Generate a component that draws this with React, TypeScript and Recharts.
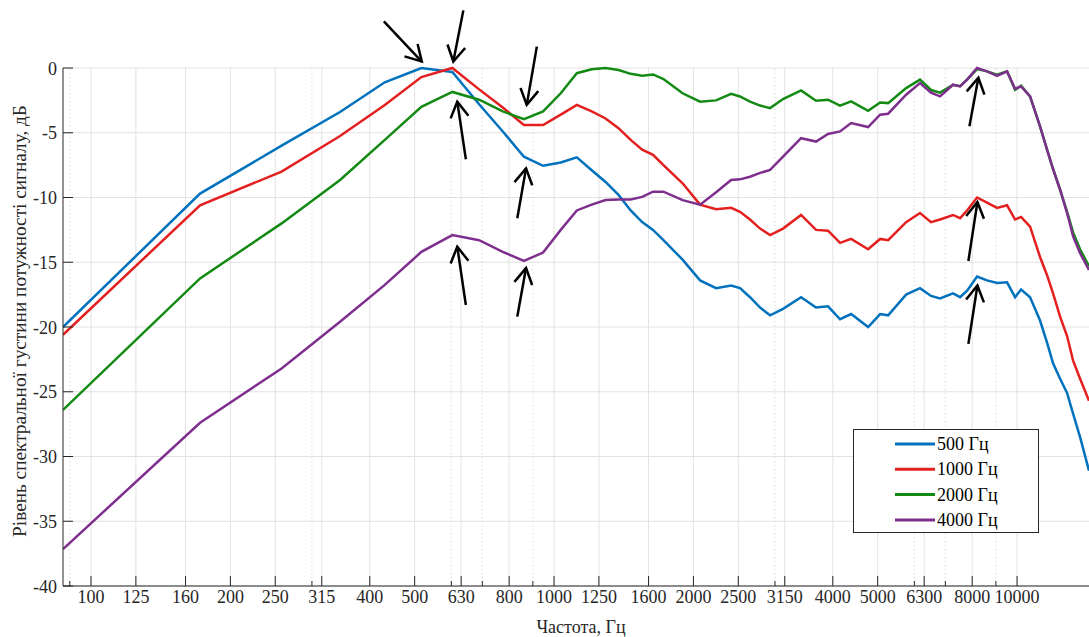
import { LineChart, Line, XAxis, YAxis, CartesianGrid, ReferenceLine } from 'recharts';

// FFT bin frequencies (Hz) at which the four spectra are sampled
const freqs = [
  87, 172, 258, 345, 431, 517, 603, 689, 775, 861, 947, 1034, 1120, 1206, 1292, 1378, 1464, 1550, 1636, 1723,
  1895, 2067, 2239, 2412, 2521, 2650, 2786, 2928, 3123, 3416, 3680, 3906, 4147, 4381, 4768, 5061, 5267, 5759,
  6172, 6519, 6818, 7273, 7532, 7799, 8196, 8613, 9052, 9514, 9901, 10200, 10668, 11210, 11607, 11960, 12385,
  12823, 13213, 13680, 14300,
];

const level500 = [
  -20.0, -9.7, -6.0, -3.4, -1.1, 0, -0.3, -2.8, -4.9, -6.85, -7.55, -7.3, -6.9, -7.9, -8.8, -9.8, -11.0, -11.9, -12.5, -13.3,
  -14.8, -16.4, -17.0, -16.8, -17.0, -17.7, -18.5, -19.1, -18.6, -17.7, -18.5, -18.4, -19.4, -19.0, -20.0, -19.0, -19.1, -17.5,
  -17.0, -17.6, -17.8, -17.4, -17.7, -17.2, -16.1, -16.4, -16.6, -16.55, -17.7, -17.1, -17.7, -19.5, -21.2, -22.8, -24.0,
  -25.1, -26.7, -28.5, -31.1,
];

const level1000 = [
  -20.6, -10.6, -8.0, -5.25, -2.85, -0.7, 0, -1.65, -3.05, -4.4, -4.4, -3.6, -2.85, -3.35, -3.9, -4.65, -5.55, -6.3, -6.7, -7.5,
  -8.9, -10.55, -10.9, -10.8, -11.1, -11.7, -12.4, -12.9, -12.4, -11.35, -12.5, -12.56, -13.5, -13.2, -14.0, -13.2, -13.3, -11.9,
  -11.2, -11.9, -11.7, -11.35, -11.6, -11.0, -10.0, -10.4, -10.8, -10.6, -11.7, -11.5, -12.25, -14.6, -16.0, -17.4, -19.2,
  -20.7, -22.6, -24.0, -25.7,
];

const level2000 = [
  -26.4, -16.25, -12.0, -8.65, -5.55, -3.0, -1.85, -2.45, -3.35, -3.95, -3.35, -1.95, -0.4, -0.1, 0, -0.15, -0.45, -0.6, -0.5, -0.85,
  -1.95, -2.6, -2.5, -2.0, -2.2, -2.6, -2.9, -3.1, -2.4, -1.73, -2.53, -2.45, -2.9, -2.58, -3.3, -2.66, -2.71, -1.55,
  -0.9, -1.7, -1.9, -1.3, -1.4, -0.9, -0.08, -0.26, -0.52, -0.26, -1.68, -1.37, -2.19, -4.5, -6.3, -7.8, -9.4,
  -11.1, -12.7, -14.0, -15.3,
];

const level4000 = [
  -37.15, -27.4, -23.2, -19.6, -16.75, -14.2, -12.9, -13.3, -14.2, -14.9, -14.25, -12.5, -11.0, -10.55, -10.2, -10.15, -10.15, -9.95, -9.55, -9.55,
  -10.2, -10.55, -9.6, -8.65, -8.6, -8.4, -8.1, -7.87, -6.84, -5.42, -5.68, -5.1, -4.9, -4.25, -4.56, -3.61, -3.53, -2.06,
  -1.16, -1.9, -2.19, -1.29, -1.42, -0.9, 0, -0.26, -0.6, -0.26, -1.6, -1.42, -2.19, -4.5, -6.3, -7.8, -9.4,
  -11.2, -13.0, -14.3, -15.6,
];

// third-octave labels and the log minor grid between them
const majorTicks = [100, 125, 160, 200, 250, 315, 400, 500, 630, 800, 1000, 1250, 1600, 2000, 2500, 3150, 4000, 5000, 6300, 8000, 10000];
const minorTicks = [90, 300, 600, 700, 900, 3000, 6000, 7000, 9000];
const levelTicks = [-40, -35, -30, -25, -20, -15, -10, -5, 0];

// annotation arrows: tail and tip as [Hz, dB]
const arrowTails = [[429, 3.6], [637, 4.45], [918, 1.65], [645, -7.05], [833, -11.6], [645, -18.3], [833, -19.2], [7890, -4.5], [7850, -14.9], [7850, -21.3]];
const arrowTips = [[518, 0.5], [606, 0.5], [873, -2.85], [618, -2.6], [870, -7.75], [618, -13.8], [870, -15.45], [8250, -0.75], [8210, -10.35], [8210, -16.8]];

const series = [
  { key: 's500', name: '500 Гц', color: '#0072BD', values: level500 },
  { key: 's1000', name: '1000 Гц', color: '#E41F1F', values: level1000 },
  { key: 's2000', name: '2000 Гц', color: '#138A13', values: level2000 },
  { key: 's4000', name: '4000 Гц', color: '#7E2F8E', values: level4000 },
];

const data = freqs.map((f, i) => {
  const row: Record<string, number> = { f };
  series.forEach(s => { row[s.key] = s.values[i]; });
  return row;
});

const FONT = '"Liberation Serif", "Times New Roman", serif';
const AXIS = '#262626';
const allTicks = [...minorTicks, ...majorTicks].sort((a, b) => a - b);

function BottomTick({ x, y, payload }: any) {
  const minor = minorTicks.includes(payload.value);
  return (
    <g>
      <line x1={x} x2={x} y1={y} y2={y - (minor ? 5 : 10)} stroke={AXIS} strokeWidth={1} />
      {!minor && (
        <text x={x} y={y + 16.5} textAnchor="middle" fontSize={18} fontFamily={FONT} fill={AXIS}>
          {payload.value}
        </text>
      )}
    </g>
  );
}

function TopTick({ x, y, payload }: any) {
  const minor = minorTicks.includes(payload.value);
  return <line x1={x} x2={x} y1={y} y2={y + (minor ? 5 : 10)} stroke={AXIS} strokeWidth={1} />;
}

function LeftTick({ x, y, payload }: any) {
  return (
    <g>
      <line x1={x} x2={x + 10} y1={y} y2={y} stroke={AXIS} strokeWidth={1} />
      <text x={x - 6} y={y + 6.5} textAnchor="end" fontSize={18} fontFamily={FONT} fill={AXIS}>
        {payload.value}
      </text>
    </g>
  );
}

function Arrow({ x1, y1, x2, y2 }: any) {
  const ang = Math.atan2(y1 - y2, x1 - x2);
  const len = 18;
  const spread = Math.PI / 6;
  const p1 = `${x2 + len * Math.cos(ang + spread)},${y2 + len * Math.sin(ang + spread)}`;
  const p2 = `${x2 + len * Math.cos(ang - spread)},${y2 + len * Math.sin(ang - spread)}`;
  return (
    <g>
      <line x1={x1} y1={y1} x2={x2} y2={y2} stroke="#000" strokeWidth={2.5} />
      <polyline points={`${p1} ${x2},${y2} ${p2}`} fill="none" stroke="#000" strokeWidth={2.5} />
    </g>
  );
}

// boxed legend in the lower right of the axes
function Legend() {
  return (
    <svg width={188} height={106} style={{ position: 'absolute', left: 852, top: 428 }}>
      <rect x={1.5} y={1.5} width={185} height={103} fill="#fff" stroke={AXIS} strokeWidth={1} />
      {series.map((s, i) => {
        const cy = 16 + i * 25.3;
        return (
          <g key={s.key}>
            <line x1={43} x2={83} y1={cy} y2={cy} stroke={s.color} strokeWidth={3} />
            <text x={85} y={cy + 6} fontSize={18} fontFamily={FONT} fill="#000">
              {s.name}
            </text>
          </g>
        );
      })}
    </svg>
  );
}

export default function App() {
  return (
    <div style={{ position: 'fixed', left: 0, top: 0, width: 1089, height: 637, overflow: 'hidden', background: '#fff' }}>
      <LineChart width={1089} height={637} data={data} margin={{ top: 68, right: 0, bottom: 0, left: 0 }}>
        <CartesianGrid vertical={false} stroke="#e2e2e2" />
        {majorTicks.map(f => (
          <ReferenceLine key={`g${f}`} x={f} stroke="#e2e2e2" strokeWidth={1} zIndex={-50} />
        ))}
        {minorTicks.map(f => (
          <ReferenceLine key={`m${f}`} x={f} stroke="#cfcfcf" strokeWidth={1} strokeDasharray="1 3" zIndex={-50} />
        ))}
        <XAxis
          dataKey="f"
          type="number"
          scale="log"
          domain={[87, 14300]}
          allowDataOverflow
          ticks={allTicks}
          interval={0}
          height={51}
          tickSize={0}
          tickMargin={0}
          tickLine={false}
          axisLine={{ stroke: AXIS }}
          tick={<BottomTick />}
          label={(p: any) => (
            <text
              x={p.viewBox.x + p.viewBox.width / 2 + 5}
              y={p.viewBox.y + 47}
              textAnchor="middle"
              fontSize={18}
              fontFamily={FONT}
              fill={AXIS}
            >
              Частота, Гц
            </text>
          )}
        />
        <XAxis
          xAxisId="top"
          orientation="top"
          dataKey="f"
          type="number"
          scale="log"
          domain={[87, 14300]}
          allowDataOverflow
          ticks={allTicks}
          interval={0}
          height={0}
          tickSize={0}
          tickMargin={0}
          tickLine={false}
          axisLine={{ stroke: AXIS }}
          tick={<TopTick />}
        />
        <YAxis
          type="number"
          domain={[-40, 0]}
          ticks={levelTicks}
          interval={0}
          width={63}
          tickSize={0}
          tickMargin={0}
          tickLine={false}
          axisLine={{ stroke: AXIS }}
          tick={<LeftTick />}
          label={(p: any) => {
            const cx = p.viewBox.x + 19;
            const cy = p.viewBox.y + p.viewBox.height / 2 - 6;
            return (
              <text
                x={cx}
                y={cy}
                transform={`rotate(-90 ${cx} ${cy})`}
                textAnchor="middle"
                dominantBaseline="central"
                fontSize={19.3}
                fontFamily={FONT}
                fill={AXIS}
              >
                Рівень спектральної густини потужності сигналу, дБ
              </text>
            );
          }}
        />
        {series.map(s => (
          <Line
            key={s.key}
            dataKey={s.key}
            name={s.name}
            type="linear"
            stroke={s.color}
            strokeWidth={2.5}
            dot={false}
            activeDot={false}
            isAnimationActive={false}
          />
        ))}
        {arrowTails.map((t, i) => (
          <ReferenceLine
            key={`a${i}`}
            segment={[{ x: t[0], y: t[1] }, { x: arrowTips[i][0], y: arrowTips[i][1] }]}
            ifOverflow="visible"
            shape={Arrow}
            zIndex={2000}
          />
        ))}
      </LineChart>
      <Legend />
    </div>
  );
}
